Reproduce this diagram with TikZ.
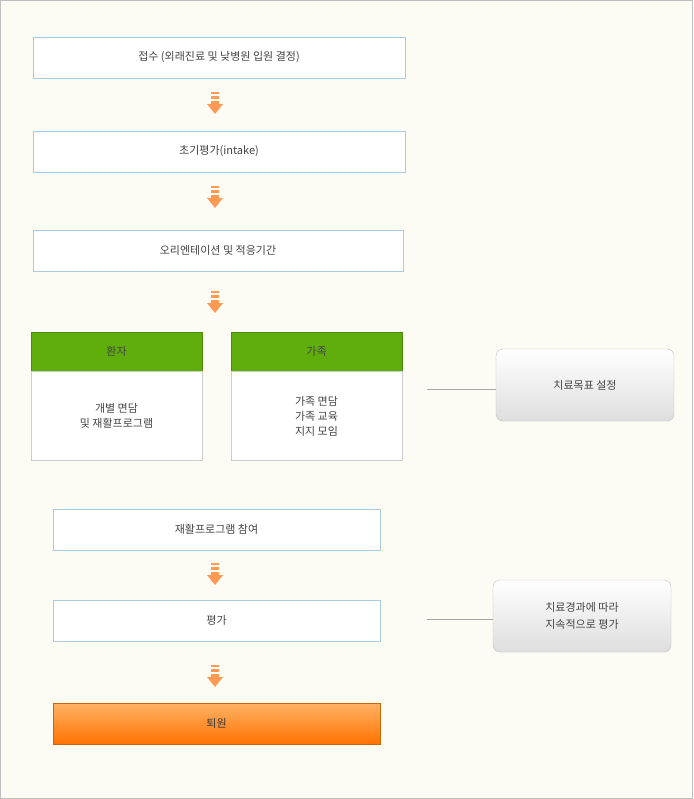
\documentclass[tikz,border=0pt]{standalone}
\usepackage{fontspec}
\setmainfont{Noto Sans CJK KR}
\usepackage{tikz}
\usetikzlibrary{positioning}
\definecolor{bgivory}{HTML}{FCFCF4}
\definecolor{stepline}{HTML}{A8CCE6}
\definecolor{txtgrey}{HTML}{444444}
\definecolor{arroworange}{HTML}{FF9A55}
\definecolor{greenhead}{HTML}{5FAE0C}
\tikzset{
  step/.style={draw=stepline,fill=white,minimum width=#1,minimum height=41pt,
    text=txtgrey,font=\fontsize{11}{13}\selectfont,inner sep=0pt},
  step/.default=372pt,
  headbox/.style={draw=greenhead!80!black,fill=greenhead,minimum width=171pt,minimum height=39pt,
    text=txtgrey,font=\fontsize{11}{13}\selectfont,inner sep=0pt},
  bodybox/.style={draw=black!20,fill=white,minimum width=171pt,minimum height=89pt,
    text=txtgrey,font=\fontsize{11}{15}\selectfont,align=center,inner sep=0pt},
  notebox/.style={draw=black!25,rounded corners=7pt,top color=white,bottom color=black!13,
    minimum width=178pt,minimum height=72pt,text=txtgrey,
    font=\fontsize{11}{17}\selectfont,align=center,inner sep=0pt},
  link/.style={draw=black!35},
}
\newcommand{\downstep}[1]{%
  \fill[arroworange] ($(#1)+(-4,-12)$) rectangle ($(#1)+(4,-10)$);
  \fill[arroworange] ($(#1)+(-4,-8)$) rectangle ($(#1)+(4,-5)$);
  \fill[arroworange] ($(#1)+(-4,-3)$) rectangle ($(#1)+(4,0)$);
  \fill[arroworange] ($(#1)+(-8,0)$) -- ($(#1)+(8,0)$) -- ($(#1)+(0,10)$) -- cycle;}
\usetikzlibrary{calc}
\begin{document}
\begin{tikzpicture}[x=1pt,y=-1pt]
  \useasboundingbox (0,0) rectangle (693,799);
  \draw[fill=bgivory,draw=black!25] (0.5,0.5) rectangle (692.5,798.5);
  % main steps
  \node[step] (intake0) at (219,57.5) {접수 (외래진료 및 낮병원 입원 결정)};
  \node[step] (intake) at (219,151.5) {초기평가(intake)};
  \node[step=370pt] (orient) at (218,250.5) {오리엔테이션 및 적응기간};
  % patient and family
  \node[headbox] (patient) at (116.5,351.5) {환자};
  \node[bodybox,anchor=north] (patientbody) at (patient.south) {개별 면담\\및 재활프로그램};
  \node[headbox] (family) at (316.5,351.5) {가족};
  \node[bodybox,anchor=north] (familybody) at (family.south) {가족 면담\\가족 교육\\지지 모임};
  \node[notebox] (goal) at (585,385) {치료목표 설정};
  \coordinate (goalend) at (427,389);
  \draw[link] (goalend) -- (goal.west |- goalend);
  % later steps
  \node[step=327pt] (join) at (216.5,529.5) {재활프로그램 참여};
  \node[step=327pt] (eval) at (216.5,620.5) {평가};
  \node[step=327pt,draw=orange!80!black,top color=orange!60,bottom color=orange!90!red,text=txtgrey!80!black] (discharge) at (216.5,723.5) {퇴원};
  \node[notebox] (progress) at (582,616) {치료경과에 따라\\지속적으로 평가};
  \coordinate (progend) at (427,619);
  \draw[link] (progend) -- (progress.west |- progend);
  % arrows
  \coordinate (a1) at (215,104);
  \coordinate (a2) at (215,198);
  \coordinate (a3) at (215,303);
  \coordinate (a4) at (215,575);
  \coordinate (a5) at (215,677);
  \foreach \a in {a1,a2,a3,a4,a5} {\downstep{\a}}
\end{tikzpicture}
\end{document}
